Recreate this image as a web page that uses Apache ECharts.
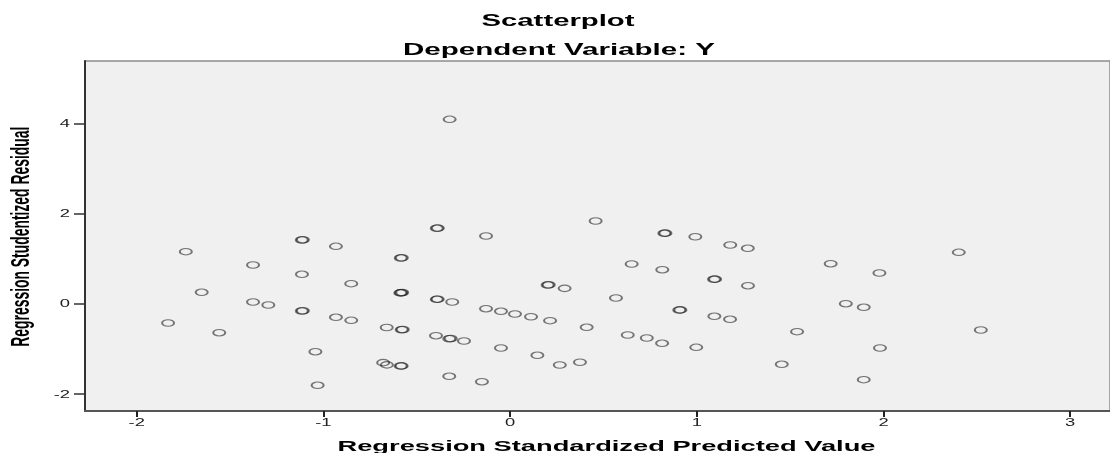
<!DOCTYPE html>
<html><head><meta charset="utf-8">
<script src="https://cdn.jsdelivr.net/npm/echarts@6/dist/echarts.min.js"></script>
<style>html,body{margin:0;padding:0;background:#fff}#c{width:1110px;height:453px}</style>
</head><body><div id="c"></div>
<script>
const titleMain = 'Scatterplot';
const titleSub = 'Dependent Variable: Y';
const xName = 'Regression Standardized Predicted Value';
const yName = 'Regression Studentized Residual';
const xTicks = [-2, -1, 0, 1, 2, 3];
const yTicks = [-2, 0, 2, 4];

const predicted = [
  -1.737, -1.116, -1.110, -0.933, -1.377, -1.115, -0.851, -1.652, -1.377, -1.295,
  -1.116, -1.110, -0.933, -0.851, -1.832, -1.558, -1.043, -1.031, -0.661, -0.680,
  -0.660, -0.393, -0.387, -0.129, 0.458, -0.586, -0.580, 0.651, 0.201, 0.207,
  0.292, -0.584, -0.578, -0.588, -0.393, -0.388, -0.310, 0.567, -0.129, -0.049,
  0.026, 0.112, 0.214, -0.581, -0.575, 0.410, 0.630, -0.397, -0.326, -0.318,
  -0.247, -0.049, 0.146, 0.266, 0.374, -0.586, -0.581, -0.326, -0.151, 0.826,
  0.832, 0.992, 1.179, 1.273, 0.815, 1.717, 1.092, 1.098, 1.274, 1.798,
  1.894, 0.906, 0.912, 1.094, 1.178, 0.732, 0.814, 0.997, 1.537, 1.455,
  1.894, 2.403, 1.978, 2.521, 1.981, -0.324
];
const residual = [
  1.152, 1.411, 1.418, 1.271, 0.856, 0.650, 0.442, 0.251, 0.036, -0.031,
  -0.164, -0.158, -0.304, -0.371, -0.430, -0.646, -1.067, -1.813, -0.530, -1.310,
  -1.360, 1.671, 1.676, 1.500, 1.833, 1.012, 1.016, 0.879, 0.413, 0.417,
  0.339, 0.242, 0.246, 0.238, 0.095, 0.098, 0.036, 0.124, -0.113, -0.171,
  -0.231, -0.291, -0.379, -0.579, -0.575, -0.526, -0.697, -0.712, -0.779, -0.775,
  -0.830, -0.985, -1.147, -1.362, -1.302, -1.385, -1.382, -1.613, -1.733, 1.560,
  1.563, 1.484, 1.300, 1.227, 0.752, 0.885, 0.539, 0.542, 0.397, -0.002,
  -0.082, -0.142, -0.140, -0.282, -0.348, -0.763, -0.881, -0.970, -0.623, -1.347,
  -1.688, 1.138, 0.679, -0.586, -0.985, 4.089
];

const FAM = '"Liberation Sans", Arial, sans-serif';
const chart = echarts.init(document.getElementById('c'), null, { renderer: 'canvas' });

const points = predicted.map((x, i) => [x, residual[i]]);

chart.setOption({
  animation: false,
  backgroundColor: '#ffffff',
  grid: {
    left: 85, top: 61, right: 0, bottom: 42,
    show: true, backgroundColor: '#f0f0f0',
    borderColor: '#8c8c8c', borderWidth: 1.5
  },
  xAxis: {
    type: 'value', min: -2.277, max: 3.213,
    splitLine: { show: false },
    axisLine: { show: true, onZero: false, lineStyle: { color: '#555', width: 2 } },
    axisTick: { show: true, customValues: xTicks, length: 6, lineStyle: { color: '#222', width: 2 } },
    axisLabel: { show: false }
  },
  yAxis: {
    type: 'value', min: -2.383, max: 5.383,
    splitLine: { show: false },
    axisLine: { show: true, onZero: false, lineStyle: { color: '#333', width: 2 } },
    axisTick: { show: true, customValues: yTicks, length: 11, lineStyle: { color: '#333', width: 1.5 } },
    axisLabel: { show: false }
  },
  series: [{
    type: 'scatter',
    data: points,
    symbol: 'circle',
    symbolSize: [12, 6.5],
    itemStyle: { color: 'rgba(0,0,0,0)', borderColor: 'rgba(25,25,25,0.72)', borderWidth: 1.5 },
    emphasis: { disabled: true },
    silent: true
  }]
});

const mctx = document.createElement('canvas').getContext('2d');
function widthOf(text, font) { mctx.font = font; return mctx.measureText(text).width; }

function textEl(text, x, y, font, scaleX, align, extra) {
  return Object.assign({
    type: 'text', x: x, y: y, scaleX: scaleX, scaleY: 1,
    style: {
      text: text, font: font, fill: '#000',
      textAlign: align, align: align,
      textVerticalAlign: 'middle', verticalAlign: 'middle'
    },
    silent: true
  }, extra || {});
}

const fTitle = 'bold 17px ' + FAM;
const fXName = 'bold 15px ' + FAM;
const fYName = 'bold 25px ' + FAM;
const fTick = '10.5px ' + FAM;
const tickScale = 1.75;

const els = [];
els.push(textEl(titleMain, 558, 21.5, fTitle, 153 / widthOf(titleMain, fTitle), 'center'));
els.push(textEl(titleSub, 559, 50, fTitle, 312 / widthOf(titleSub, fTitle), 'center'));
els.push(textEl(xName, 606.5, 447, fXName, 538 / widthOf(xName, fXName), 'center'));
els.push(textEl(yName, 22, 236.7, fYName, 220 / widthOf(yName, fYName), 'center', { rotation: Math.PI / 2 }));

xTicks.forEach(v => {
  const px = chart.convertToPixel({ xAxisIndex: 0 }, v);
  const el = textEl(String(v), px, 423.3, fTick, tickScale, 'center');
  el.style.fill = '#222';
  els.push(el);
});
yTicks.forEach(v => {
  const py = chart.convertToPixel({ yAxisIndex: 0 }, v);
  const el = textEl(String(v), 70, py + 1, fTick, tickScale, 'right');
  el.style.fill = '#222';
  els.push(el);
});

chart.setOption({ graphic: { elements: els } });
</script>
</body></html>
